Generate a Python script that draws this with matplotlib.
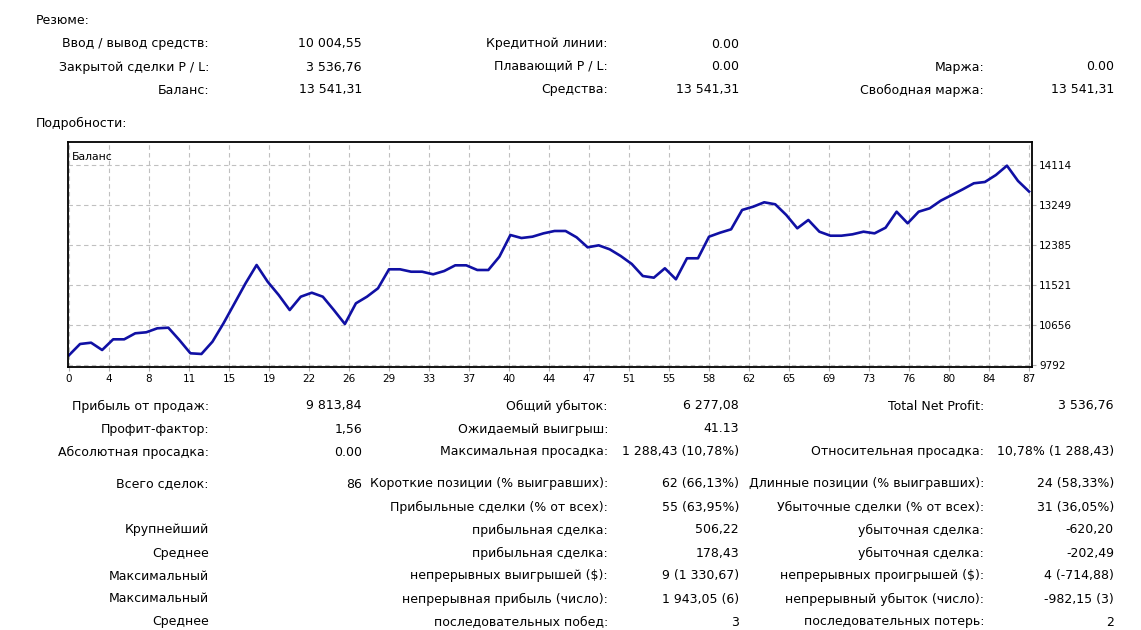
#!/usr/bin/env python3
# -*- coding: utf-8 -*-
import numpy as np
import matplotlib
matplotlib.use('Agg')
import matplotlib.pyplot as plt

W, H = 1141, 630

# Кривая баланса (по сделкам)
balance = [10004.55, 10246, 10274, 10116, 10347, 10347, 10477, 10499, 10585, 10598,
           10332, 10045, 10030, 10296, 10693, 11125, 11558, 11953, 11592, 11305,
           10980, 11268, 11354, 11268, 10980, 10678, 11125, 11268, 11449, 11860,
           11860, 11808, 11808, 11752, 11823, 11946, 11946, 11845, 11845, 12132,
           12601, 12536, 12565, 12637, 12688, 12688, 12551, 12335, 12378, 12292,
           12147, 11975, 11715, 11679, 11882, 11644, 12098, 12098, 12565, 12651,
           12724, 13142, 13213, 13308, 13265, 13034, 12746, 12926, 12673, 12586,
           12586, 12616, 12673, 12637, 12759, 13105, 12854, 13105, 13178, 13343,
           13466, 13589, 13719, 13747, 13898, 14100, 13770, 13541.31]
x_labels = ['0', '4', '8', '11', '15', '19', '22', '26', '29', '33', '37', '40', '44',
            '47', '51', '55', '58', '62', '65', '69', '73', '76', '80', '84', '87']
y_ticks = [9792, 10656, 11521, 12385, 13249, 14114]

# Резюме
summary_rows = [
    ['Ввод / вывод средств:', '10 004,55', 'Кредитной линии:', '0.00', '', ''],
    ['Закрытой сделки P / L:', '3 536,76', 'Плавающий P / L:', '0.00', 'Маржа:', '0.00'],
    ['Баланс:', '13 541,31', 'Средства:', '13 541,31', 'Свободная маржа:', '13 541,31'],
]
# Подробности
detail_rows = [
    ['Прибыль от продаж:', '9 813,84', 'Общий убыток:', '6 277,08', 'Total Net Profit:', '3 536,76'],
    ['Профит-фактор:', '1,56', 'Ожидаемый выигрыш:', '41.13', '', ''],
    ['Абсолютная просадка:', '0.00', 'Максимальная просадка:', '1 288,43 (10,78%)',
     'Относительная просадка:', '10,78% (1 288,43)'],
    ['Всего сделок:', '86', 'Короткие позиции (% выигравших):', '62 (66,13%)',
     'Длинные позиции (% выигравших):', '24 (58,33%)'],
    ['', '', 'Прибыльные сделки (% от всех):', '55 (63,95%)',
     'Убыточные сделки (% от всех):', '31 (36,05%)'],
    ['Крупнейший', '', 'прибыльная сделка:', '506,22', 'убыточная сделка:', '-620,20'],
    ['Среднее', '', 'прибыльная сделка:', '178,43', 'убыточная сделка:', '-202,49'],
    ['Максимальный', '', 'непрерывных выигрышей ($):', '9 (1 330,67)',
     'непрерывных проигрышей ($):', '4 (-714,88)'],
    ['Максимальный', '', 'непрерывная прибыль (число):', '1 943,05 (6)',
     'непрерывный убыток (число):', '-982,15 (3)'],
    ['Среднее', '', 'последовательных побед:', '3', 'последовательных потерь:', '2'],
]

plt.rcParams['font.family'] = ['DejaVu Sans']
FS = 9.0
col_x = [209, 362, 608, 739, 984, 1114]

fig = plt.figure(figsize=(W / 100, H / 100), dpi=100)
fig.patch.set_facecolor('white')

def put(x, y, s, ha='right'):
    fig.text(x / W, 1 - y / H, s, ha=ha, va='center', fontsize=FS, color='black')

put(36, 21, 'Резюме:', ha='left')
for r, row in enumerate(summary_rows):
    for c, s in enumerate(row):
        if s:
            put(col_x[c], 44 + r * 23, s)
put(36, 123, 'Подробности:', ha='left')

detail_y = [406, 429, 452, 484, 507, 530, 553, 576, 599, 622]
for r, row in enumerate(detail_rows):
    for c, s in enumerate(row):
        if s:
            put(col_x[c], detail_y[r], s)

# График
ax = fig.add_axes([67.7 / W, 1 - 367 / H, (1032 - 67.7) / W, (367 - 142) / H])
n = len(balance) - 1
ax.plot(np.arange(len(balance)), balance, color='#1010a4', lw=1.9, solid_joinstyle='round')
ax.set_xlim(-0.12, n + 0.27)
step = (y_ticks[-1] - y_ticks[0]) / (len(y_ticks) - 1)
ax.set_ylim(y_ticks[0] - step * 2 / 40, y_ticks[-1] + step * 23 / 40)

xt = np.linspace(0, n, len(x_labels))
ax.set_xticks(xt)
ax.set_xticklabels(x_labels, fontsize=7.5)
ax.set_yticks(y_ticks)
ax.set_yticklabels([str(v) for v in y_ticks], fontsize=7.5)
ax.yaxis.tick_right()
ax.tick_params(axis='both', length=3, width=0.8, color='#b0b0b0', pad=2)
ax.grid(True, color='#c0c0c0', linestyle=(0, (4, 3)), linewidth=0.8)
for sp in ax.spines.values():
    sp.set_color('black')
    sp.set_linewidth(1.3)
ax.text(0.004, 0.955, 'Баланс', transform=ax.transAxes, ha='left', va='top', fontsize=7.8)

fig.savefig('out.png', dpi=100)
